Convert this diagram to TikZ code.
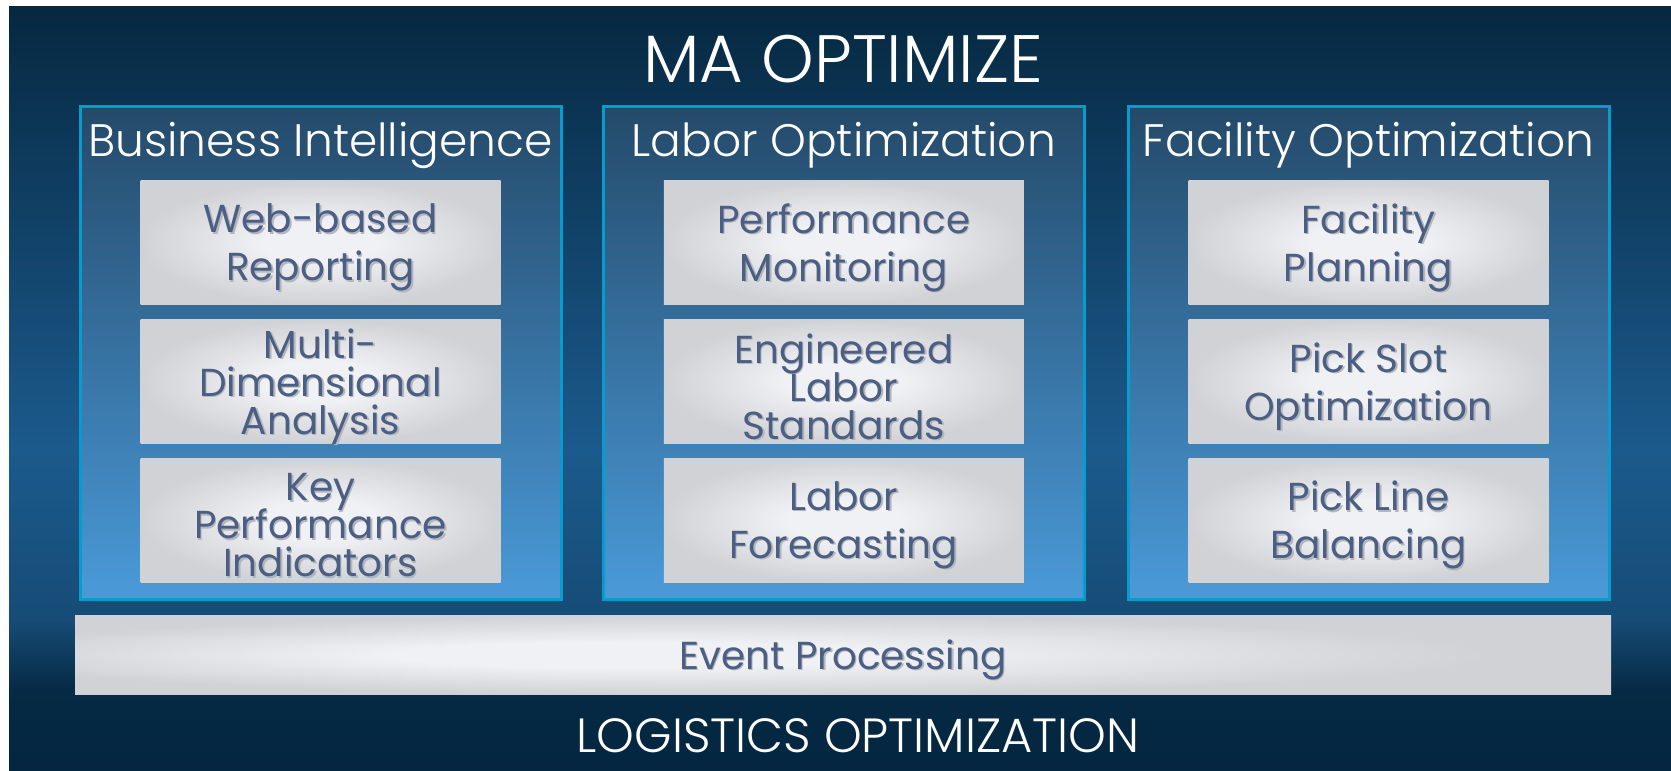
\documentclass[tikz,border=0pt]{standalone}
\usepackage{fontspec}
\newfontfamily\lightfont{Poppins Light}
\newfontfamily\cellfont{Poppins}
\usetikzlibrary{positioning}
\lineskiplimit=-100pt

\definecolor{bgtop}{RGB}{6,40,64}
\definecolor{bgup}{RGB}{14,58,92}
\definecolor{bgmid}{RGB}{27,90,140}
\definecolor{bglow}{RGB}{22,76,118}
\definecolor{bgdark}{RGB}{6,42,68}
\definecolor{bgbot}{RGB}{4,38,64}
\definecolor{pillartop}{RGB}{36,74,106}
\definecolor{pillarbot}{RGB}{74,154,216}
\definecolor{pillarline}{RGB}{8,155,205}
\definecolor{celllight}{RGB}{240,241,245}
\definecolor{cellgray}{RGB}{208,210,214}
\definecolor{celltxt}{RGB}{76,95,130}
\definecolor{cellshade}{RGB}{178,182,190}

\pgfdeclareverticalshading{backdrop}{100bp}{color(0bp)=(bgbot); color(25bp)=(bgbot); color(30.3bp)=(bgdark); color(34.9bp)=(bglow); color(46bp)=(bgmid); color(65bp)=(bgup); color(75bp)=(bgtop); color(100bp)=(bgtop)}
\pgfdeclareradialshading{cellglow}{\pgfpointorigin}{color(0bp)=(celllight); color(8bp)=(celllight); color(25bp)=(cellgray); color(50bp)=(cellgray)}
\pgfdeclareradialshading{barglow}{\pgfpoint{-8bp}{0bp}}{color(0bp)=(celllight); color(8bp)=(celllight); color(25bp)=(cellgray); color(50bp)=(cellgray)}

\tikzset{
  bigtitle/.style={anchor=base, text=white, inner sep=0pt, font=\lightfont\fontsize{67}{70}\selectfont},
  maintitle/.style={anchor=base, text=white, inner sep=0pt, font=\lightfont\fontsize{48}{52}\selectfont},
  headtitle/.style={maintitle, font=\lightfont\fontsize{45.5}{50}\selectfont},
  pillar/.style={draw=pillarline, line width=3pt, top color=pillartop, bottom color=pillarbot,
    minimum width=481pt, minimum height=493pt, inner sep=0pt, anchor=north},
  celltext/.style={text=celltxt, align=center, inner sep=0pt, yshift=-5pt,
    font=\cellfont\fontsize{39}{#1}\selectfont},
  celltext/.default=38,
  textshadow/.style={celltext=#1, text=cellshade, xshift=1.5pt, yshift=-1.5pt},
  textshadow/.default=38,
  shadowed/.style 2 args={label={[textshadow=#2]center:{#1}}, label={[celltext=#2]center:{#1}}},
  cellbox/.style={shading=cellglow, minimum width=360pt, minimum height=124.5pt, inner sep=0pt, anchor=north},
  cell/.style={cellbox, shadowed={#1}{38}},
  pair/.style={cellbox, shadowed={#1}{48}},
  bar/.style={shading=barglow, minimum width=1536pt, minimum height=79.7pt, inner sep=0pt,
    shadowed={#1}{38}}
}

\begin{document}
\begin{tikzpicture}[x=1pt, y=1pt]
  \useasboundingbox (0,0) rectangle (1671,-771);
  \fill[white] (0,0) rectangle (1671,-771);
  \shade[shading=backdrop] (9,-6) rectangle (1671,-771);

  \node[bigtitle] (ma) at (843,-82.7) {MA OPTIMIZE};

  % three columns
  \node[pillar] (bi) at (320.5,-105) {};
  \node[pillar] (lo) at (843.75,-105) {};
  \node[pillar] (fo) at (1368.5,-105) {};

  \node[headtitle] (bihead) at ([yshift=-51.7]bi.north) {Business Intelligence};
  \node[headtitle] (lohead) at ([yshift=-51.7]lo.north) {Labor Optimization};
  \node[headtitle] (fohead) at ([yshift=-51.7]fo.north) {Facility Optimization};

  \node[pair={Web-based\\Reporting}] (bi1) at ([yshift=-75]bi.north) {};
  \node[cell={Multi-\\Dimensional\\Analysis}, below=14pt of bi1] (bi2) {};
  \node[cell={Key\\Performance\\Indicators}, below=14pt of bi2] (bi3) {};

  \node[pair={Performance\\Monitoring}] (lo1) at ([yshift=-75]lo.north) {};
  \node[cell={Engineered\\Labor\\Standards}, below=14pt of lo1] (lo2) {};
  \node[pair={Labor\\Forecasting}, below=14pt of lo2] (lo3) {};

  \node[pair={Facility\\Planning}] (fo1) at ([yshift=-75]fo.north) {};
  \node[pair={Pick Slot\\Optimization}, below=14pt of fo1] (fo2) {};
  \node[pair={Pick Line\\Balancing}, below=14pt of fo2] (fo3) {};

  % base layer
  \node[bar={Event Processing}] (ev) at (843,-654.85) {};
  \node[maintitle] (lg) at (858,-752.7) {LOGISTICS OPTIMIZATION};
\end{tikzpicture}
\end{document}
